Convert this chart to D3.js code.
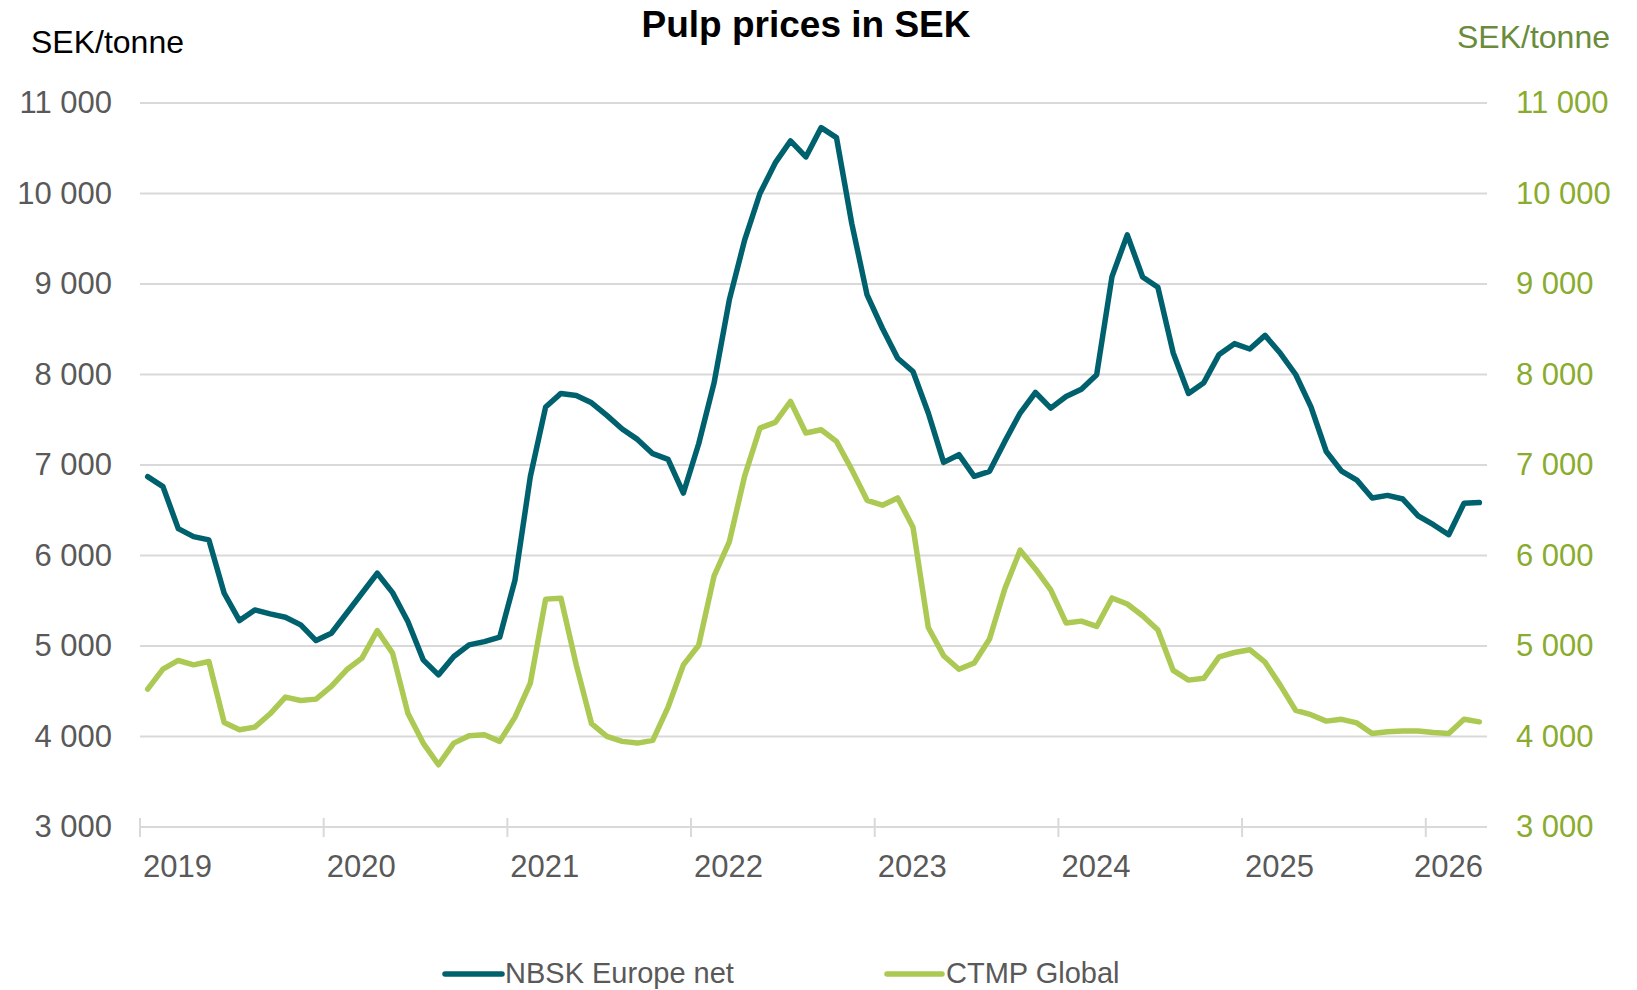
<!DOCTYPE html>
<html>
<head>
<meta charset="utf-8">
<script src="https://cdn.jsdelivr.net/npm/d3@7"></script>
<style>
  html, body { margin: 0; padding: 0; background: #ffffff; }
  svg { display: block; font-family: "Liberation Sans", Arial, sans-serif; }
</style>
</head>
<body>
<svg id="chart" width="1637" height="990"></svg>
<script>
// ---- Data ----
const startMonth = new Date(2019, 0, 1);
const endMonthExclusive = new Date(2026, 4, 1);
const months = d3.timeMonth.range(startMonth, endMonthExclusive); // Jan 2019 .. Apr 2026

const nbskEuropeNet = [
  6871, 6761, 6297, 6209, 6172, 5583, 5281, 5399, 5355, 5318, 5233, 5060,
  5141, 5362, 5583, 5804, 5590, 5270, 4847, 4681, 4884, 5013, 5049, 5097,
  5730, 6871, 7641, 7791, 7768, 7687, 7548, 7398, 7283, 7125, 7063, 6690,
  7235, 7904, 8824, 9485, 10000, 10338, 10581, 10404, 10728, 10618, 9669, 8879,
  8511, 8180, 8033, 7574, 7029, 7114, 6875, 6930, 7261, 7574, 7801, 7629,
  7757, 7838, 7998, 9082, 9543, 9077, 8964, 8238, 7791, 7910, 8222, 8341,
  8282, 8432, 8234, 8000, 7642, 7149, 6932, 6833, 6636, 6664, 6624, 6439,
  6340, 6230, 6577, 6585
];

const ctmpGlobal = [
  4523, 4744, 4840, 4792, 4829, 4155, 4074, 4104, 4251, 4435, 4398, 4413,
  4553, 4737, 4866, 5171, 4921, 4258, 3927, 3688, 3927, 4008, 4019, 3946,
  4214, 4590, 5518, 5528, 4792, 4141, 4001, 3946, 3927, 3957, 4325, 4792,
  5009, 5771, 6151, 6877, 7408, 7471, 7702, 7353, 7390, 7261, 6949, 6610,
  6556, 6636, 6313, 5205, 4893, 4743, 4812, 5078, 5632, 6059, 5851, 5620,
  5255, 5275, 5216, 5531, 5464, 5334, 5176, 4730, 4623, 4643, 4880, 4928,
  4959, 4821, 4565, 4289, 4241, 4170, 4190, 4150, 4032, 4052, 4060, 4060,
  4044, 4032, 4190, 4162
];

const yTickValues = [3000, 4000, 5000, 6000, 7000, 8000, 9000, 10000, 11000];
const yearLabels = ["2019", "2020", "2021", "2022", "2023", "2024", "2025", "2026"];
const seriesNames = ["NBSK Europe net", "CTMP Global"];
const titleText = "Pulp prices in SEK";
const unitLabel = "SEK/tonne";

// ---- Styles ----
const colNBSK = "#00616e";
const colCTMP = "#abc953";
const colGrid = "#d9d9d9";
const colTick = "#595959";
const colRightTick = "#8aab2e";
const colRightUnit = "#6a8c3a";

// ---- Layout ----
const plotLeft = 140, plotRight = 1487, plotTop = 103, plotBottom = 827;

const svg = d3.select("#chart");

const x = d3.scaleBand()
  .domain(months.map(d => +d))
  .range([plotLeft, plotRight])
  .paddingInner(0).paddingOuter(0);
const xc = d => x(+d) + x.bandwidth() / 2;

const y = d3.scaleLinear().domain([3000, 11000]).range([plotBottom, plotTop]);

const loc = d3.formatLocale({ decimal: ",", thousands: " ", grouping: [3], currency: ["", " kr"] });
const fmt = loc.format(",d");

// Gridlines
svg.append("g")
  .selectAll("line")
  .data(yTickValues)
  .join("line")
  .attr("x1", plotLeft).attr("x2", plotRight)
  .attr("y1", d => y(d)).attr("y2", d => y(d))
  .attr("stroke", colGrid).attr("stroke-width", 2);

// Left axis labels
const leftAxis = svg.append("g")
  .attr("transform", `translate(${plotLeft - 28},0)`)
  .call(d3.axisLeft(y).tickValues(yTickValues).tickFormat(fmt).tickSize(0).tickPadding(0));
leftAxis.select(".domain").remove();
leftAxis.selectAll("text")
  .attr("fill", colTick)
  .style("font-size", "31px")
  .style("font-family", "'Liberation Sans', Arial, sans-serif");

// Right axis labels
const rightAxis = svg.append("g")
  .attr("transform", `translate(${plotRight + 29},0)`)
  .call(d3.axisRight(y).tickValues(yTickValues).tickFormat(fmt).tickSize(0).tickPadding(0));
rightAxis.select(".domain").remove();
rightAxis.selectAll("text")
  .attr("fill", colRightTick)
  .style("font-size", "31px")
  .style("font-family", "'Liberation Sans', Arial, sans-serif");

// X axis tick marks at year starts
const yearStarts = yearLabels.map(yr => new Date(+yr, 0, 1));
svg.append("g")
  .selectAll("line")
  .data(yearStarts)
  .join("line")
  .attr("x1", d => x(+d)).attr("x2", d => x(+d))
  .attr("y1", plotBottom - 9).attr("y2", plotBottom + 10)
  .attr("stroke", colGrid).attr("stroke-width", 2);

// Year labels
const xLabels = svg.append("g")
  .selectAll("text")
  .data(yearStarts)
  .join("text")
  .attr("y", 877)
  .attr("fill", colTick)
  .style("font-size", "31px")
  .text((d, i) => yearLabels[i])
  .attr("x", d => x(+d) + 3);
xLabels.each(function () {
  const t = d3.select(this);
  const w = this.getComputedTextLength();
  const xs = +t.attr("x");
  if (xs + w > plotRight - 4) t.attr("x", plotRight - 4 - w);
});

// Lines
const line = d3.line()
  .x((d, i) => xc(months[i]))
  .y(d => y(d))
  .curve(d3.curveLinear);

svg.append("path")
  .datum(ctmpGlobal)
  .attr("d", line)
  .attr("fill", "none")
  .attr("stroke", colCTMP)
  .attr("stroke-width", 5.5)
  .attr("stroke-linejoin", "round")
  .attr("stroke-linecap", "round");

svg.append("path")
  .datum(nbskEuropeNet)
  .attr("d", line)
  .attr("fill", "none")
  .attr("stroke", colNBSK)
  .attr("stroke-width", 5.5)
  .attr("stroke-linejoin", "round")
  .attr("stroke-linecap", "round");

// Title
svg.append("text")
  .attr("x", 806).attr("y", 37)
  .attr("text-anchor", "middle")
  .attr("fill", "#000")
  .style("font-size", "37px")
  .style("font-weight", "bold")
  .text(titleText);

// Unit labels
svg.append("text")
  .attr("x", 31).attr("y", 53)
  .attr("fill", "#000")
  .style("font-size", "32px")
  .text(unitLabel);

svg.append("text")
  .attr("x", 1610).attr("y", 48)
  .attr("text-anchor", "end")
  .attr("fill", colRightUnit)
  .style("font-size", "32px")
  .text(unitLabel);

// Legend
const legendItems = [
  { name: seriesNames[0], color: colNBSK, x1: 445, x2: 502, tx: 505 },
  { name: seriesNames[1], color: colCTMP, x1: 887, x2: 942, tx: 946 }
];
const lg = svg.append("g");
lg.selectAll("line")
  .data(legendItems)
  .join("line")
  .attr("x1", d => d.x1).attr("x2", d => d.x2)
  .attr("y1", 974).attr("y2", 974)
  .attr("stroke", d => d.color)
  .attr("stroke-width", 5.5)
  .attr("stroke-linecap", "round");
lg.selectAll("text")
  .data(legendItems)
  .join("text")
  .attr("x", d => d.tx).attr("y", 983)
  .attr("fill", colTick)
  .style("font-size", "29px")
  .text(d => d.name);
</script>
</body>
</html>
